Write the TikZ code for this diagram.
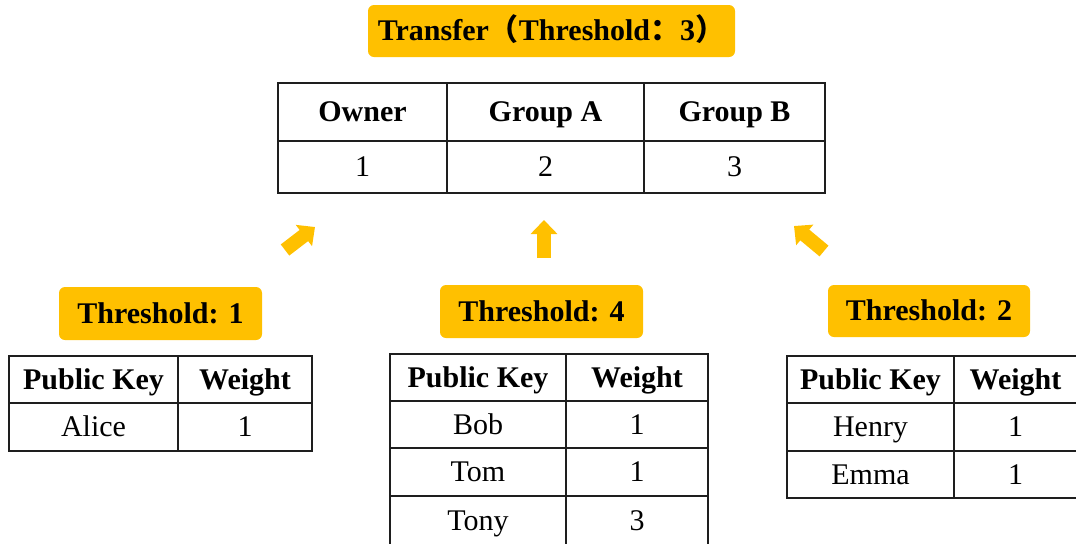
\documentclass[tikz,border=0pt]{standalone}
\usepackage{fontspec}
\setmainfont{Liberation Serif}
\newfontfamily\cjk{Noto Sans CJK SC}
\usetikzlibrary{arrows.meta, positioning}
\definecolor{gold}{RGB}{255,192,0}
\definecolor{ink}{RGB}{30,30,30}

\begin{document}
\fontsize{15}{18}\selectfont
\begin{tikzpicture}[x=0.5pt, y=-0.5pt, >={Triangle[width=13pt, length=7pt]}]
	\tikzstyle{cell} = [draw=ink, line width=1pt, inner sep=0pt, text height=0.66em, text depth=0pt]
	\tikzstyle{head} = [cell, font=\bfseries]
	\tikzstyle{tag} = [fill=gold, rounded corners=3pt, inner sep=0pt, text height=0.66em, text depth=0pt, minimum height=26.5pt, font=\bfseries]
	\tikzstyle{fat} = [draw=gold, line width=7pt, ->]
	
	\useasboundingbox (0,0) rectangle (1076,543);
	
	% transfer table
	\node[tag, minimum width=183.5pt, minimum height=26pt] at (551.5, 31) (tr) {Transfer{\cjk（}Threshold{\cjk：}3{\cjk）}};
	\node[head, minimum width=84.5pt, minimum height=29pt] at (362.5, 112) (own) {Owner};
	\node[head, minimum width=98.5pt, minimum height=29pt] at (545.5, 112) (ga) {Group A};
	\node[head, minimum width=90.5pt, minimum height=29pt] at (734.5, 112) (gb) {Group B};
	\node[cell, minimum width=84.5pt, minimum height=26pt] at (362.5, 167) (own1) {1};
	\node[cell, minimum width=98.5pt, minimum height=26pt] at (545.5, 167) (ga1) {2};
	\node[cell, minimum width=90.5pt, minimum height=26pt] at (734.5, 167) (gb1) {3};
	
	% arrows
	\coordinate (a0) at (285, 250);
	\coordinate (b0) at (315, 227);
	\coordinate (a1) at (544, 258);
	\coordinate (b1) at (544, 220);
	\coordinate (a2) at (824, 251);
	\coordinate (b2) at (794, 226);
	\draw[fat] (a0) -- (b0);
	\draw[fat] (a1) -- (b1);
	\draw[fat] (a2) -- (b2);
	
	% owner
	\node[tag, minimum width=101.5pt] at (160.5, 313.5) (th1) {Threshold: 1};
	\node[head, minimum width=84.5pt, minimum height=23.5pt] at (93.5, 379.5) (pk1) {Public Key};
	\node[head, minimum width=67pt, minimum height=23.5pt] at (245, 379.5) (w1) {Weight};
	\node[cell, minimum width=84.5pt, minimum height=24pt] at (93.5, 427) (alice) {Alice};
	\node[cell, minimum width=67pt, minimum height=24pt] at (245, 427) (alicew) {1};
	
	% group A
	\node[tag, minimum width=101.5pt] at (541.5, 311.5) (th2) {Threshold: 4};
	\node[head, minimum width=88pt, minimum height=23.5pt] at (478, 377.5) (pk2) {Public Key};
	\node[head, minimum width=71pt, minimum height=23.5pt] at (637, 377.5) (w2) {Weight};
	\node[cell, minimum width=88pt, minimum height=23.5pt] at (478, 424.5) (bob) {Bob};
	\node[cell, minimum width=71pt, minimum height=23.5pt] at (637, 424.5) (bobw) {1};
	\node[cell, minimum width=88pt, minimum height=24pt] at (478, 472) (tom) {Tom};
	\node[cell, minimum width=71pt, minimum height=24pt] at (637, 472) (tomw) {1};
	\node[cell, minimum width=88pt, minimum height=25pt] at (478, 521) (tony) {Tony};
	\node[cell, minimum width=71pt, minimum height=25pt] at (637, 521) (tonyw) {3};
	
	% group B
	\node[tag, minimum width=101pt, minimum height=26pt] at (929, 311) (th3) {Threshold: 2};
	\node[head, minimum width=83.5pt, minimum height=23.5pt] at (870.5, 379.5) (pk3) {Public Key};
	\node[head, minimum width=61.5pt, minimum height=23.5pt] at (1015.5, 379.5) (w3) {Weight};
	\node[cell, minimum width=83.5pt, minimum height=24pt] at (870.5, 427) (henry) {Henry};
	\node[cell, minimum width=61.5pt, minimum height=24pt] at (1015.5, 427) (henryw) {1};
	\node[cell, minimum width=83.5pt, minimum height=23.5pt] at (870.5, 474.5) (emma) {Emma};
	\node[cell, minimum width=61.5pt, minimum height=23.5pt] at (1015.5, 474.5) (emmaw) {1};
\end{tikzpicture}
\end{document}
